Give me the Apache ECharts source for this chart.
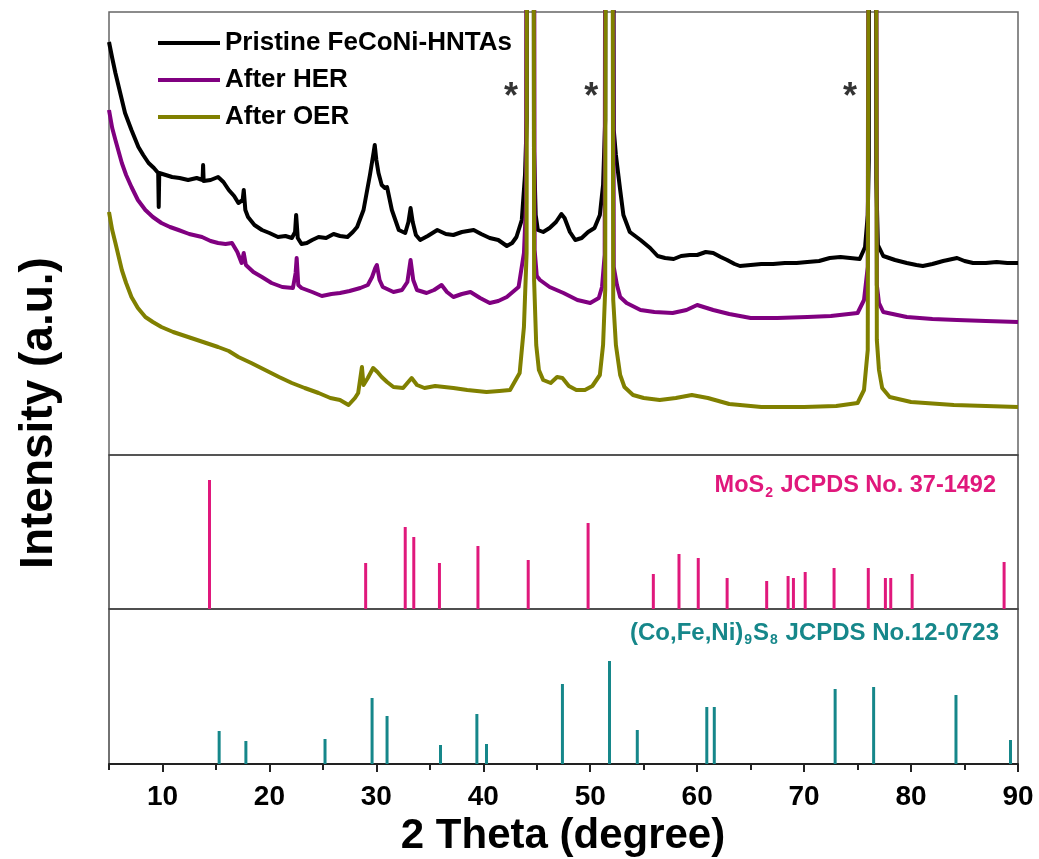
<!DOCTYPE html>
<html>
<head>
<meta charset="utf-8">
<script src="https://cdn.jsdelivr.net/npm/echarts@6/dist/echarts.min.js"></script>
<style>
html,body{margin:0;padding:0;background:#fff;}
#chart{width:1039px;height:859px;}
</style>
</head>
<body>
<div id="chart"></div>
<script>
// ---------- DATA ----------
// x in 2Theta (degree); intensity in arbitrary units (top panel); 1200 = off-scale peak top
const seriesNames = ['Pristine FeCoNi-HNTAs', 'After HER', 'After OER'];

const pristine = [
[5.0,413],[5.3,397],[5.6,382],[6.05,362],[6.5,342],[7.1,325],[7.75,308],[8.2,300],[8.7,292],[9.2,287],[9.6,282],[9.65,248],[9.7,282],
[10.3,280],[10.9,278],[11.6,277],[12.4,275],[13.2,277],[13.75,275],[13.8,290],[13.85,274],[14.5,275],[15.2,278],[15.7,273],[16.2,265],
[16.7,259],[17.1,252],[17.5,255],[17.6,265],[17.75,245],[18.0,238],[18.6,230],[19.3,225],[20.0,222],[20.8,218],[21.5,219],[22.1,217],
[22.4,223],[22.5,240],[22.65,217],[23.0,211],[23.5,212],[24.0,215],[24.6,218],[25.3,217],[26.0,221],[26.6,219],[27.3,218],[27.8,223],
[28.2,228],[28.8,245],[29.4,280],[29.75,303],[29.85,310],[30.0,295],[30.2,282],[30.5,270],[30.8,267],[31.0,268],[31.45,245],[32.1,225],
[32.7,222],[33.0,233],[33.2,247],[33.4,233],[33.7,220],[34.1,215],[34.8,219],[35.7,225],[36.5,221],[37.2,220],[38.0,223],[39.1,225],
[39.8,221],[40.6,217],[41.4,215],[42.2,209],[42.7,212],[43.1,218],[43.6,235],[43.9,280],[44.06,335],[44.12,1200],[44.66,1200],[44.74,305],
[44.9,240],[45.1,225],[45.6,223],[46.2,227],[46.8,233],[47.3,241],[47.6,237],[48.1,223],[48.6,215],[49.2,217],[49.8,223],[50.4,227],
[50.9,240],[51.2,270],[51.4,335],[51.48,1200],[52.05,1200],[52.2,325],[52.4,300],[52.8,265],[53.1,240],[53.7,223],[54.7,215],[55.6,207],
[56.3,199],[57.0,197],[57.8,196],[58.5,199],[59.3,200],[60.0,200],[60.8,203],[61.5,202],[62.2,198],[62.8,195],[63.5,191],[64.0,189],
[65.0,190],[66.0,191],[67.1,191],[68.2,192],[69.3,192],[70.3,193],[71.4,194],[72.4,197],[73.4,198],[74.3,197],[75.2,196],[75.7,208],
[75.95,240],[76.05,295],[76.12,1200],[76.64,1200],[76.75,275],[76.9,210],[77.4,199],[78.5,195],[79.6,192],[80.5,190],[81.1,189],
[82.0,191],[83.0,194],[84.3,197],[85.0,194],[85.8,192],[87.0,192],[88.0,193],[89.0,192],[90.0,192]
];

const afterHER = [
[5.0,345],[5.3,327],[5.6,315],[6.2,292],[6.6,280],[7.1,268],[7.7,255],[8.4,245],[9.1,238],[9.9,232],[10.7,228],[11.5,225],[12.5,221],
[13.7,218],[14.5,214],[15.2,212],[15.9,211],[16.5,212],[17.0,203],[17.4,192],[17.6,202],[17.8,190],[18.5,183],[19.3,178],[20.2,172],
[21.2,168],[22.2,167],[22.45,182],[22.55,197],[22.7,170],[23.0,167],[24.0,163],[24.9,159],[25.8,161],[26.6,162],[27.5,164],[28.5,167],
[29.2,170],[29.6,178],[29.9,187],[30.05,190],[30.3,175],[30.6,168],[31.6,163],[32.4,165],[32.9,173],[33.2,195],[33.45,175],[33.8,165],
[34.7,162],[35.4,165],[36.1,170],[36.6,163],[37.2,158],[38.0,161],[38.8,163],[39.7,157],[40.6,152],[41.4,154],[42.2,158],[43.3,168],
[43.8,202],[44.0,252],[44.1,1200],[44.68,1200],[44.8,205],[45.0,179],[45.3,175],[46.2,168],[47.5,162],[48.8,155],[50.0,152],[50.8,157],
[51.1,168],[51.35,200],[51.48,1200],[52.05,1200],[52.2,188],[52.5,170],[52.8,158],[53.4,152],[54.7,145],[56.0,143],[57.7,142],[59.0,145],
[60.0,150],[61.5,145],[63.0,141],[65.0,137],[67.5,137],[70.3,138],[72.5,139],[75.0,142],[75.6,155],[75.95,188],[76.1,1200],[76.66,1200],
[76.8,170],[77.0,152],[77.4,143],[79.6,138],[82.0,136],[84.3,135],[87.0,134],[90.0,133]
];

const afterOER = [
[5.0,243],[5.3,225],[5.6,212],[6.2,185],[6.6,172],[7.1,158],[7.7,147],[8.4,138],[9.1,133],[9.9,128],[11.0,123],[12.4,118],[13.8,113],
[15.2,108],[16.2,104],[17.1,98],[18.3,92],[19.6,85],[20.9,78],[22.1,72],[23.3,67],[24.6,62],[25.7,57],[26.6,55],[27.4,50],[28.0,57],
[28.3,62],[28.65,88],[28.8,70],[29.2,77],[29.7,87],[30.1,83],[30.5,78],[31.0,73],[31.6,68],[32.5,67],[33.3,77],[33.8,70],[34.5,67],
[35.5,69],[37.2,67],[38.5,65],[40.3,63],[41.5,64],[42.5,65],[43.4,82],[43.8,128],[44.05,202],[44.12,1200],[44.66,1200],[44.75,175],
[44.95,110],[45.2,85],[45.6,75],[46.3,72],[46.9,78],[47.4,77],[48.0,69],[48.7,65],[49.5,65],[50.2,69],[50.9,80],[51.2,110],[51.4,165],
[51.52,1200],[52.0,1200],[52.15,155],[52.4,110],[52.8,80],[53.2,68],[54.0,60],[55.0,57],[56.5,55],[58.0,57],[59.5,60],[61.0,57],[63.0,51],
[66.0,48],[70.0,48],[73.0,49],[75.0,52],[75.6,65],[75.95,105],[76.13,1200],[76.64,1200],[76.8,115],[77.0,85],[77.3,67],[78.0,58],
[80.0,53],[84.0,50],[87.0,49],[90.0,48]
];

// substrate peak markers (*)
const starMarks = [[42.6,357],[50.1,357],[74.3,357]];

// MoS2 JCPDS No. 37-1492 reference lines: [2Theta, relative intensity]
const mos2Lines = [
[14.4,129],[29.0,46],[32.7,82],[33.5,72],[35.9,46],[39.5,63],[44.2,49],[49.8,86],[55.9,35],[58.3,55],[60.1,51],
[62.8,31],[66.5,28],[68.5,33],[69.0,31],[70.1,37],[72.8,41],[76.0,41],[77.6,31],[78.1,31],[80.1,35],[88.7,47]
];

// (Co,Fe,Ni)9S8 JCPDS No. 12-0723 reference lines
const cfnsLines = [
[15.3,33],[17.8,23],[25.2,25],[29.6,66],[31.0,48],[36.0,19],[39.4,50],[40.3,20],[47.4,80],[51.8,103],[54.4,34],
[60.9,57],[61.6,57],[72.9,75],[76.5,77],[84.2,69],[89.3,24]
];

const tickLabels = [10,20,30,40,50,60,70,80,90];
const minorTicks = [5,15,25,35,45,55,65,75,85];

// ---------- CHART ----------
const FONT = 'Liberation Sans, Arial, Helvetica, sans-serif';
const chart = echarts.init(document.getElementById('chart'), null, {renderer:'canvas'});

const gridL = 109, gridR = 21;
const hiddenX = (gi) => ({
  type:'value', gridIndex:gi, min:5, max:90,
  axisLine:{show:false}, axisTick:{show:false}, axisLabel:{show:false}, splitLine:{show:false}
});
const hiddenY = (gi, max) => ({
  type:'value', gridIndex:gi, min:0, max:max, show:false, splitLine:{show:false}
});

const option = {
  animation:false,
  backgroundColor:'#ffffff',
  textStyle:{fontFamily:FONT},
  grid:[
    {left:gridL, right:gridR, top:12, height:443, show:true, borderColor:'#666', borderWidth:1.5, backgroundColor:'transparent'},
    {left:gridL, right:gridR, top:455, height:154, show:true, borderColor:'#444', borderWidth:1.5, backgroundColor:'transparent'},
    {left:gridL, right:gridR, top:609, height:155, show:true, borderColor:'#444', borderWidth:1.5, backgroundColor:'transparent'}
  ],
  xAxis:[
    hiddenX(0), hiddenX(1),
    {
      type:'value', gridIndex:2, min:5, max:90, position:'bottom',
      axisLine:{show:true, lineStyle:{color:'#222', width:2}},
      axisTick:{show:true, customValues:tickLabels, length:8, inside:false, lineStyle:{color:'#222', width:2}},
      axisLabel:{show:true, customValues:tickLabels, margin:19, fontSize:28, fontWeight:'bold', color:'#000', fontFamily:FONT},
      splitLine:{show:false}
    },
    {
      type:'value', gridIndex:2, min:5, max:90, position:'bottom',
      axisLine:{show:false},
      axisTick:{show:true, customValues:minorTicks, length:6, inside:false, lineStyle:{color:'#222', width:2}},
      axisLabel:{show:false}, splitLine:{show:false}
    }
  ],
  yAxis:[ hiddenY(0,443), hiddenY(1,154), hiddenY(2,155) ],
  legend:{
    data:seriesNames, orient:'vertical', left:153, top:25,
    icon:'rect', itemWidth:62, itemHeight:4, itemGap:11,
    textStyle:{fontSize:26, fontWeight:'bold', color:'#000', fontFamily:FONT}
  },
  series:[
    {name:seriesNames[0], type:'line', xAxisIndex:0, yAxisIndex:0, data:pristine, symbol:'none', clip:true,
     color:'#000000', lineStyle:{color:'#000000', width:4, join:'round'}},
    {name:seriesNames[1], type:'line', xAxisIndex:0, yAxisIndex:0, data:afterHER, symbol:'none', clip:true,
     color:'#800080', lineStyle:{color:'#800080', width:4, join:'round'}},
    {name:seriesNames[2], type:'line', xAxisIndex:0, yAxisIndex:0, data:afterOER, symbol:'none', clip:true,
     color:'#808000', lineStyle:{color:'#808000', width:4, join:'round'}},
    {name:'stars', type:'scatter', xAxisIndex:0, yAxisIndex:0, data:starMarks, symbolSize:1, itemStyle:{color:'transparent'},
     label:{show:true, position:'inside', formatter:'*', fontSize:36, fontWeight:'bold', color:'#000', fontFamily:FONT}},
    {name:'MoS2', type:'bar', xAxisIndex:1, yAxisIndex:1, data:mos2Lines, barWidth:3, itemStyle:{color:'#e0187c'}},
    {name:'CFNS', type:'bar', xAxisIndex:2, yAxisIndex:2, data:cfnsLines, barWidth:3, itemStyle:{color:'#16878a'}}
  ],
  graphic:[
    {type:'text', x:39, y:413, rotation:Math.PI/2,
     style:{text:'Intensity (a.u.)', font:'bold 46px ' + FONT, fill:'#000', align:'center', verticalAlign:'middle'}},
    {type:'text', x:563, y:836,
     style:{text:'2 Theta (degree)', font:'bold 42px ' + FONT, fill:'#000', align:'center', verticalAlign:'middle'}},
    {type:'text', x:996, y:487,
     style:{text:'{a|MoS}{s|2}{a| JCPDS No. 37-1492}', align:'right', verticalAlign:'middle',
       rich:{a:{fontSize:23.5, fontWeight:'bold', fill:'#e0187c', fontFamily:FONT, verticalAlign:'top', lineHeight:26},
             s:{fontSize:14, fontWeight:'bold', fill:'#e0187c', fontFamily:FONT, verticalAlign:'bottom', lineHeight:16, padding:[16,1,0,1]}}}},
    {type:'text', x:999, y:634,
     style:{text:'{a|(Co,Fe,Ni)}{s|9}{a|S}{s|8}{a| JCPDS No.12-0723}', align:'right', verticalAlign:'middle',
       rich:{a:{fontSize:24, fontWeight:'bold', fill:'#16878a', fontFamily:FONT, verticalAlign:'top', lineHeight:26},
             s:{fontSize:14, fontWeight:'bold', fill:'#16878a', fontFamily:FONT, verticalAlign:'bottom', lineHeight:16, padding:[16,1,0,1]}}}}
  ]
};
chart.setOption(option);
</script>
</body>
</html>
